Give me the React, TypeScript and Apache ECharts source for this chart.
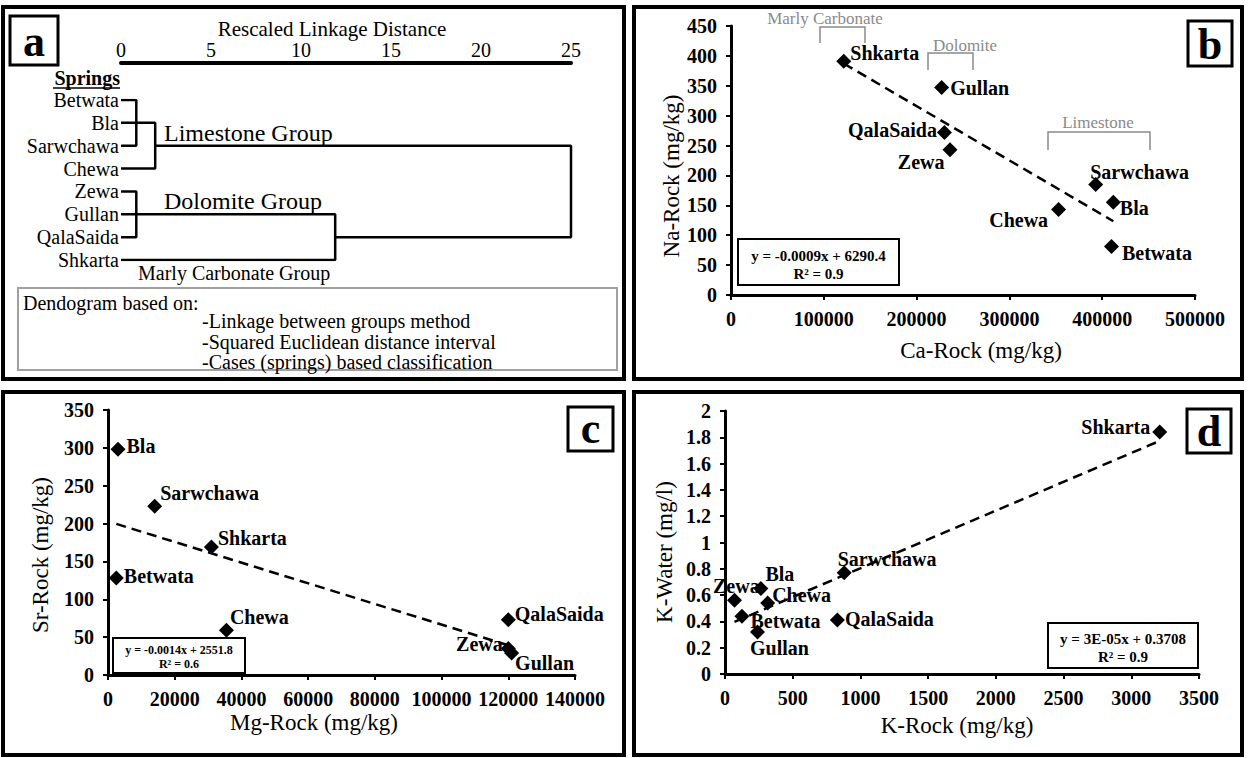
import React, { useEffect, useRef } from "react";
import * as echarts from "echarts";

const SERIF = '"Liberation Serif", "Times New Roman", serif';

// ---- Dendrogram (panel a) ----
const springs = ["Betwata", "Bla", "Sarwchawa", "Chewa", "Zewa", "Gullan", "QalaSaida", "Shkarta"];
const linkageTicks = { min: 0, max: 25, step: 5 };
// [child A, child B, rescaled linkage distance]; "m1".."m7" refer to earlier merges
const merges: [string, string, number][] = [
  ["Betwata", "Sarwchawa", 0.85],
  ["m1", "Bla", 0.85],
  ["m2", "Chewa", 1.9],
  ["Zewa", "QalaSaida", 0.85],
  ["m4", "Gullan", 0.85],
  ["m5", "Shkarta", 11.9],
  ["m3", "m6", 25],
];

// ---- Rock / water chemistry per spring (same order as springs) ----
const caRock = [410000, 412000, 393000, 353000, 236000, 227000, 230000, 121500];
const naRock = [81, 155, 185, 143, 243, 347, 272, 391];
const mgRock = [2500, 3000, 14000, 35500, 120000, 121000, 120000, 31000];
const srRock = [128, 298, 223, 59, 35, 29, 73, 169];
const kRock = [125, 265, 880, 315, 70, 240, 830, 3210];
const kWater = [0.44, 0.65, 0.77, 0.54, 0.56, 0.32, 0.41, 1.84];

const eqB = ["y = -0.0009x + 6290.4", "R² = 0.9"];
const eqC = ["y = -0.0014x + 2551.8", "R² = 0.6"];
const eqD = ["y = 3E-05x + 0.3708", "R² = 0.9"];

type Place = [string, number, number];
const placeB: Record<string, Place> = {
  Betwata: ["right", -2, 6],
  Bla: ["right", -6, 6],
  Sarwchawa: ["right", -18, -12],
  Chewa: ["left", 2, 10],
  Zewa: ["left", 7, 12],
  Gullan: ["right", -4, 0],
  QalaSaida: ["left", 5, -2],
  Shkarta: ["right", -6, -8],
};
const placeC: Record<string, Place> = {
  Betwata: ["right", -5, -2],
  Bla: ["right", -4, -3],
  Sarwchawa: ["right", -7, -13],
  Chewa: ["right", -9, -13],
  Zewa: ["left", 7, -5],
  Gullan: ["right", -9, 10],
  QalaSaida: ["right", -6, -6],
  Shkarta: ["right", -6, -9],
};
const placeD: Record<string, Place> = {
  Betwata: ["right", -4, 5],
  Bla: ["right", -8, -15],
  Sarwchawa: ["right", -19, -14],
  Chewa: ["right", -8, -8],
  Zewa: ["right", -34, -14],
  Gullan: ["right", -20, 16],
  QalaSaida: ["right", -5, -1],
  Shkarta: ["left", 3, -5],
};

function dendrogramSeries() {
  const pos: Record<string, [number, number]> = {};
  springs.forEach((s, i) => (pos[s] = [0, i]));
  return merges.map(([a, b, h], k) => {
    const pa = pos[a];
    const pb = pos[b];
    pos["m" + (k + 1)] = [h, (pa[1] + pb[1]) / 2];
    return {
      type: "line",
      xAxisIndex: 0,
      yAxisIndex: 0,
      symbol: "none",
      silent: true,
      lineStyle: { color: "#000", width: 2.5 },
      data: [
        [pa[0], pa[1]],
        [h, pa[1]],
        [h, pb[1]],
        [pb[0], pb[1]],
      ],
    };
  });
}

function scatterSeries(idx: number, xs: number[], ys: number[], place: Record<string, Place>) {
  return {
    type: "scatter",
    xAxisIndex: idx,
    yAxisIndex: idx,
    symbol: "diamond",
    symbolSize: 15,
    z: 3,
    itemStyle: { color: "#000", opacity: 1 },
    label: {
      show: true,
      formatter: "{b}",
      fontFamily: SERIF,
      fontWeight: "bold",
      fontSize: 20,
      color: "#000",
      opacity: 1,
      distance: 5,
    },
    data: springs.map((n, i) => ({
      name: n,
      value: [xs[i], ys[i]],
      label: { position: place[n][0], offset: [place[n][1], place[n][2]] },
    })),
  };
}

// least-squares trend line spanning the observed x range
function trendSeries(idx: number, xs: number[], ys: number[]) {
  const n = xs.length;
  const mx = xs.reduce((s, v) => s + v, 0) / n;
  const my = ys.reduce((s, v) => s + v, 0) / n;
  let sxy = 0;
  let sxx = 0;
  for (let i = 0; i < n; i++) {
    sxy += (xs[i] - mx) * (ys[i] - my);
    sxx += (xs[i] - mx) * (xs[i] - mx);
  }
  const slope = sxy / sxx;
  const icpt = my - slope * mx;
  const lo = Math.min(...xs);
  const hi = Math.max(...xs);
  return {
    type: "line",
    xAxisIndex: idx,
    yAxisIndex: idx,
    symbol: "none",
    silent: true,
    z: 2,
    lineStyle: { color: "#000", width: 2.5, type: [10, 6] },
    data: [
      [lo, icpt + slope * lo],
      [hi, icpt + slope * hi],
    ],
  };
}

const plain = (v: number) => String(v);

function valueAxis(grid: number, min: number, max: number, interval: number, fmt: (v: number) => string = plain) {
  return {
    gridIndex: grid,
    type: "value",
    min,
    max,
    interval,
    axisLine: { show: true, onZero: false, lineStyle: { color: "#000", width: 3 } },
    axisTick: { show: true, length: 5, lineStyle: { color: "#000", width: 2 } },
    splitLine: { show: false },
    axisLabel: {
      fontFamily: SERIF,
      fontWeight: "bold",
      fontSize: 20,
      color: "#000",
      margin: 14,
      showMinLabel: true,
      showMaxLabel: true,
      formatter: fmt,
    },
  };
}

const txt = (x: number, y: number, text: string, font: string, opts: any = {}) => ({
  type: "text",
  x,
  y,
  rotation: opts.rotation || 0,
  z: 10,
  style: {
    text,
    font,
    fill: opts.fill || "#000",
    align: opts.align || "center",
    verticalAlign: "middle",
  },
});

const rect = (x: number, y: number, w: number, h: number, stroke: string, lw: number, fill = "none") => ({
  type: "rect",
  z: 9,
  shape: { x, y, width: w, height: h },
  style: { fill, stroke, lineWidth: lw },
});

const bracket = (x1: number, x2: number, top: number, bottom: number) => ({
  type: "polyline",
  z: 9,
  shape: { points: [[x1, bottom], [x1, top], [x2, top], [x2, bottom]] },
  style: { stroke: "#8a8a8a", lineWidth: 1.5, fill: "none" },
});

const REG = `20px ${SERIF}`;
const TITLE = `23px ${SERIF}`;
const LETTER = `bold 44px ${SERIF}`;
const GRAY = `17px ${SERIF}`;

function buildGraphics() {
  return [
    // panel frames
    rect(3, 7, 621, 372, "#000", 4),
    rect(634, 7, 608, 372, "#000", 4),
    rect(3, 392, 621, 363, "#000", 4),
    rect(634, 392, 608, 363, "#000", 4),
    // panel letters
    rect(10, 16, 48, 49, "#000", 3, "#fff"),
    txt(34, 41, "a", LETTER),
    rect(1188, 21, 44, 45, "#000", 3, "#fff"),
    txt(1210, 44, "b", LETTER),
    rect(568, 407, 45, 44, "#000", 3, "#fff"),
    txt(590.5, 428, "c", LETTER),
    rect(1187, 409, 44, 44, "#000", 3, "#fff"),
    txt(1209, 431, "d", LETTER),
    // panel a texts
    txt(332, 29, "Rescaled Linkage Distance", `21px ${SERIF}`),
    txt(120, 78, "Springs", `bold 20px ${SERIF}`, { align: "right" }),
    { type: "line", z: 9, shape: { x1: 53, y1: 88, x2: 120, y2: 88 }, style: { stroke: "#000", lineWidth: 1.5 } },
    txt(164, 133, "Limestone Group", `24px ${SERIF}`, { align: "left" }),
    txt(164, 201, "Dolomite Group", `24px ${SERIF}`, { align: "left" }),
    txt(138, 273, "Marly Carbonate Group", REG, { align: "left" }),
    rect(18, 288, 599, 82, "#a0a0a0", 2),
    txt(23, 303, "Dendogram based on:", REG, { align: "left" }),
    txt(202, 321, "-Linkage between groups method", REG, { align: "left" }),
    txt(202, 342, "-Squared Euclidean distance interval", REG, { align: "left" }),
    txt(202, 362, "-Cases (springs) based classification", REG, { align: "left" }),
    // panel b annotations
    bracket(820, 865, 27, 43),
    txt(825, 18, "Marly Carbonate", GRAY, { fill: "#8a8a8a" }),
    bracket(928, 973, 53, 70),
    txt(965, 45, "Dolomite", GRAY, { fill: "#8a8a8a" }),
    bracket(1048, 1150, 132, 150),
    txt(1098, 122, "Limestone", GRAY, { fill: "#8a8a8a" }),
    // axis titles
    txt(671, 176, "Na-Rock (mg/kg)", TITLE, { rotation: Math.PI / 2 }),
    txt(981, 350, "Ca-Rock (mg/kg)", TITLE),
    txt(40, 555, "Sr-Rock (mg/kg)", TITLE, { rotation: Math.PI / 2 }),
    txt(314, 722, "Mg-Rock (mg/kg)", TITLE),
    txt(664, 552, "K-Water (mg/l)", TITLE, { rotation: Math.PI / 2 }),
    txt(957, 725, "K-Rock (mg/kg)", TITLE),
    // regression equations
    rect(738, 239, 161, 46, "#000", 2, "#fff"),
    txt(818.5, 256, eqB[0], `bold 15px ${SERIF}`),
    txt(818.5, 274, eqB[1], `bold 15px ${SERIF}`),
    rect(113, 638, 132, 35, "#000", 2, "#fff"),
    txt(179, 650, eqC[0], `bold 12px ${SERIF}`),
    txt(179, 664, eqC[1], `bold 12px ${SERIF}`),
    rect(1048, 623, 150, 45, "#000", 2, "#fff"),
    txt(1123, 639, eqD[0], `bold 15px ${SERIF}`),
    txt(1123, 657, eqD[1], `bold 15px ${SERIF}`),
  ];
}

export default function App() {
  const ref = useRef<HTMLDivElement>(null);

  useEffect(() => {
    if (!ref.current) return;
    const chart = echarts.init(ref.current, null, { renderer: "svg" });
    const oneDecimal = (v: number) => String(+v.toFixed(1));

    chart.setOption({
      animation: false,
      backgroundColor: "#fff",
      grid: [
        { left: 121, top: 100, width: 450, height: 160 },
        { left: 731, top: 26, width: 464, height: 269 },
        { left: 108, top: 410, width: 467, height: 265 },
        { left: 725, top: 411, width: 474, height: 263 },
      ],
      xAxis: [
        {
          gridIndex: 0,
          type: "value",
          position: "top",
          offset: 37,
          min: linkageTicks.min,
          max: linkageTicks.max,
          interval: linkageTicks.step,
          axisLine: { show: true, onZero: false, lineStyle: { color: "#000", width: 4 } },
          axisTick: { show: false },
          splitLine: { show: false },
          axisLabel: {
            fontFamily: SERIF,
            fontSize: 20,
            color: "#000",
            margin: 3,
            showMinLabel: true,
            showMaxLabel: true,
          },
        },
        valueAxis(1, 0, 500000, 100000),
        valueAxis(2, 0, 140000, 20000),
        valueAxis(3, 0, 3500, 500),
      ],
      yAxis: [
        {
          gridIndex: 0,
          type: "value",
          min: 0,
          max: springs.length - 1,
          interval: 1,
          inverse: true,
          axisLine: { show: false },
          axisTick: { show: false },
          splitLine: { show: false },
          axisLabel: {
            fontFamily: SERIF,
            fontSize: 20,
            color: "#000",
            margin: 2,
            showMinLabel: true,
            showMaxLabel: true,
            formatter: (v: number) => springs[Math.round(v)] || "",
          },
        },
        valueAxis(1, 0, 450, 50),
        valueAxis(2, 0, 350, 50),
        valueAxis(3, 0, 2, 0.2, oneDecimal),
      ],
      series: [
        ...dendrogramSeries(),
        trendSeries(1, caRock, naRock),
        scatterSeries(1, caRock, naRock, placeB),
        trendSeries(2, mgRock, srRock),
        scatterSeries(2, mgRock, srRock, placeC),
        trendSeries(3, kRock, kWater),
        scatterSeries(3, kRock, kWater, placeD),
      ],
      graphic: buildGraphics(),
    });

    return () => chart.dispose();
  }, []);

  return (
    <div
      ref={ref}
      style={{ position: "absolute", left: 0, top: 0, width: 1248, height: 758, background: "#fff" }}
    />
  );
}
